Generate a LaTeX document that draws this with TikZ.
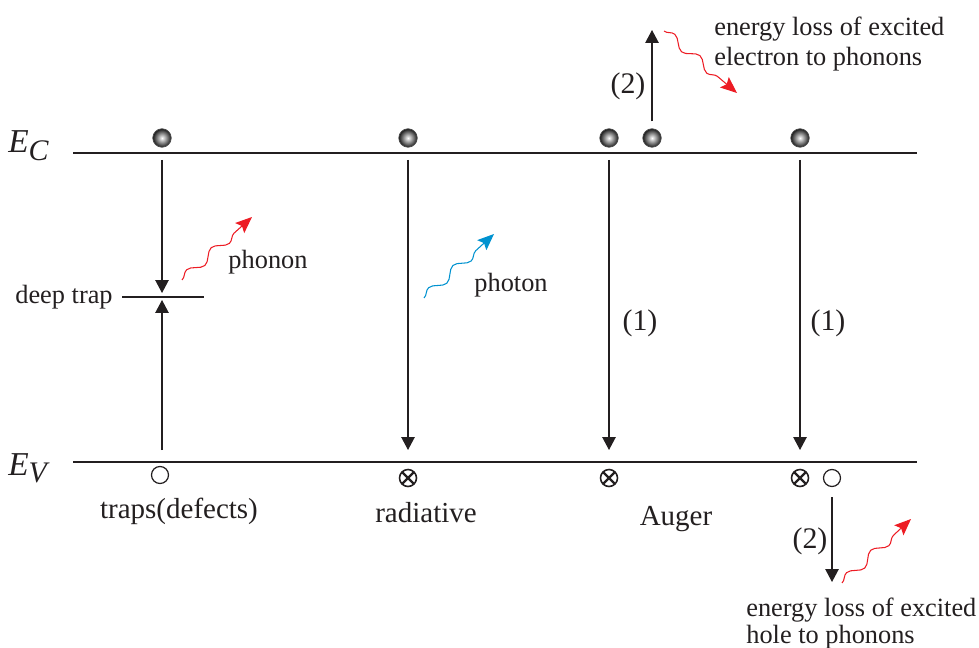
\documentclass[tikz,border=0pt]{standalone}
\usepackage{fontspec}
\setmainfont{Liberation Serif}
\usetikzlibrary{arrows.meta,decorations.pathmorphing,positioning}
\definecolor{LineGray}{RGB}{35,31,32}
\definecolor{PhononRed}{RGB}{237,28,36}
\definecolor{PhotonBlue}{RGB}{0,146,208}
\tikzset{
  level/.style={draw=LineGray,line width=1pt},
  band/.style={font=\fontsize{19}{19}\selectfont\itshape,text=LineGray,inner sep=0pt},
  elec/.style={circle,inner sep=0pt,minimum size=0.37cm,draw=black!70,
               inner color=white,outer color=black!90},
  hole/.style={circle,draw=LineGray,line width=0.7pt,inner sep=0pt,minimum size=0.34cm},
  xhole/.style={hole,line width=0.9pt,path picture={\draw[LineGray,line width=1.3pt]
               (path picture bounding box.north west)--(path picture bounding box.south east)
               (path picture bounding box.north east)--(path picture bounding box.south west);}},
  arr/.style={-{Triangle[length=0.26cm,width=0.27cm]},draw=LineGray,line width=0.7pt},
  wave/.style={decorate,decoration={snake,amplitude=0.09cm,segment length=0.66cm,post length=0.36cm},
               line width=0.6pt,-{Stealth[length=0.33cm,width=0.27cm,inset=0.06cm]}},
  lbl/.style={font=\fontsize{15}{17}\selectfont,text=LineGray,inner sep=0pt},
  captxt/.style={font=\fontsize{16.5}{18}\selectfont,text=LineGray,inner sep=0pt},
  num/.style={font=\fontsize{17}{18}\selectfont,text=LineGray,inner sep=0pt},
}
\begin{document}
\begin{tikzpicture}[x=0.02cm,y=-0.02cm]
\useasboundingbox (0,0) rectangle (979,648);
% band edges
\draw[level] (73,153) coordinate (ecL) -- (917,153) coordinate (ecR);
\draw[level] (73,462) coordinate (evL) -- (917,462) coordinate (evR);
\node[band,anchor=base west] (EC) at (8,153) {E\raisebox{-4.5pt}{\fontsize{17}{17}\selectfont C}};
\node[band,anchor=base west] (EV) at (8,475) {E\raisebox{-4pt}{\fontsize{17}{17}\selectfont V}};
% points on the bands
\coordinate (cT) at (162,153); \coordinate (vT) at (162,462);
\coordinate (cR) at (408,153); \coordinate (vR) at (408,462);
\coordinate (cA) at (609,153); \coordinate (vA) at (609,462);
\coordinate (cB) at (800,153); \coordinate (vB) at (800,462);
% electrons
\node[elec] (eT) at (162,138) {};
\node[elec] (eR) at (408,138) {};
\node[elec] (eA) at (609,138) {};
\node[elec] (eA2) at (652,138) {};
\node[elec] (eB) at (800,138) {};
% holes
\node[hole] (hT) at (160,475) {};
\node[xhole] (hR) at (408,478) {};
\node[xhole] (hA) at (609,478) {};
\node[xhole] (hB) at (800,478) {};
\node[hole] (hB2) at (832,478) {};
% deep trap
\draw[level,line width=0.8pt] (122,297) -- (204,297);
\coordinate (trap) at (162,297);
\node[lbl,anchor=east] (dt) at (113,297) {deep trap};
% transitions
\draw[arr,shorten <=0.14cm,shorten >=0.08cm] (cT) -- (trap);
\draw[arr,shorten <=0.24cm,shorten >=0.06cm] (vT) -- (trap);
\draw[arr,shorten <=0.14cm,shorten >=0.24cm] (cR) -- (vR);
\draw[arr,shorten <=0.14cm,shorten >=0.24cm] (cA) -- (vA);
\draw[arr,shorten <=0.14cm,shorten >=0.24cm] (cB) -- (vB);
\coordinate (up2) at (652,30);
\coordinate (dn2) at (832,582);
\draw[arr,shorten <=0.14cm] (eA2) -- (up2);
\draw[arr,shorten <=0.2cm] (hB2) -- (dn2);
% emitted phonons and photon
\coordinate (phS) at (182,280); \coordinate (phE) at (252,217);
\coordinate (ptS) at (424,298); \coordinate (ptE) at (494,234);
\coordinate (elS) at (664,31);  \coordinate (elE) at (737,93);
\coordinate (hlS) at (842,583); \coordinate (hlE) at (911,519);
\draw[wave,PhononRed] (phS) -- (phE);
\draw[wave,PhotonBlue] (ptS) -- (ptE);
\draw[wave,PhononRed] (elS) -- (elE);
\draw[wave,PhononRed] (hlS) -- (hlE);
% labels
\node[lbl,anchor=base] (phn) at (268,269) {phonon};
\node[lbl,anchor=base] (pht) at (511,292) {photon};
\node[num,anchor=base] (n1a) at (640,330) {(1)};
\node[num,anchor=base] (n1b) at (828,330) {(1)};
\node[num,anchor=base] (n2a) at (628,94) {(2)};
\node[num,anchor=base] (n2b) at (810,548) {(2)};
\node[captxt,anchor=base] (trp) at (179,518) {traps(defects)};
\node[captxt,anchor=base] (rad) at (426,522) {radiative};
\node[captxt,anchor=base] (aug) at (676,525) {Auger};
\node[lbl,anchor=north west,align=left] (elo) at (714,17) {energy loss of excited\\electron to phonons};
\node[lbl,anchor=north west,align=left,font=\fontsize{15}{15}\selectfont] (hlo) at (746,598) {energy loss of excited\\hole to phonons};
\end{tikzpicture}
\end{document}
